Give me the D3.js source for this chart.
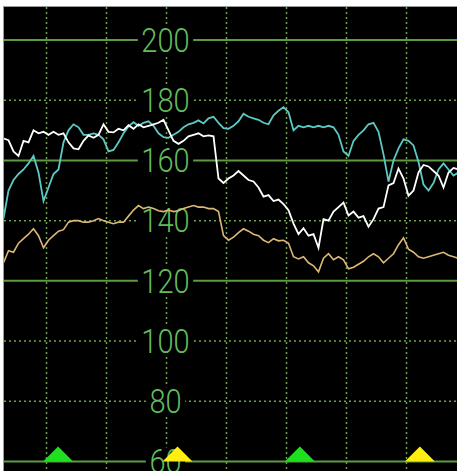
<!DOCTYPE html>
<html>
<head>
<meta charset="utf-8">
<script src="https://cdn.jsdelivr.net/npm/d3@7"></script>
<style>
  html, body { margin: 0; padding: 0; background: #fff; }
  svg { display: block; }
</style>
</head>
<body>
<div id="chart"></div>
<script>
// ---- Data (heart-rate traces, bpm, one sample every 5 s) ----
const startMinute = 0.3;
const samplesPerMinute = 12;

const whiteTrace = [
  167.3, 166.7, 163, 161.5, 166.5, 166, 170, 169, 169.5, 168.5, 169.5, 168.5,
  169, 166, 164, 163.7, 166.5, 168.3, 167.5, 168.5, 172, 169.5, 169.3, 170.5,
  170, 171.7, 170.5, 172, 171, 171.5, 172, 172.5, 173.5, 170, 166.5, 165.5,
  166.5, 168, 168.5, 169, 168, 168.3, 168, 154, 152.5, 154, 155, 156.5,
  155, 153.5, 153, 151, 148, 148.5, 146.5, 147, 145.5, 143.5, 139, 135.5,
  137.5, 135, 135.5, 131, 140.5, 140, 143, 144.5, 146, 141.7, 143, 141,
  141.5, 138, 140.5, 144, 144.5, 151.7, 152.5, 157.3, 154, 148.3, 150, 156,
  158.5, 158, 156.5, 155, 151, 156, 157.5, 157
];

const cyanTrace = [
  140.7, 150, 153.5, 155.5, 157, 159, 161.5, 156, 146.5, 151, 155.5, 157,
  166, 170, 172, 171, 168.5, 168.5, 169, 168.5, 167, 163, 163.5, 166,
  169, 171.3, 172.7, 171.5, 172.5, 173, 171.5, 169, 167.7, 167.5, 168.5, 169.5,
  171, 172, 172.5, 173.3, 172.3, 174, 174.5, 172.5, 170.7, 170.5, 171.5, 173,
  175.5, 174.5, 174, 173.5, 172.5, 172, 175, 176.5, 177.7, 176, 170, 171.5,
  171, 171.5, 171, 171.5, 171, 171.5, 171, 168.5, 163, 161.5, 166.5, 168.5,
  170, 172, 172.5, 169.5, 162, 153, 160, 164, 167, 166.5, 165, 159.5,
  152, 150, 152.5, 157, 159, 157, 155, 156
];

const orangeTrace = [
  126, 130, 129.5, 132.5, 134, 135.5, 137.3, 135, 131, 133.5, 135, 136.5,
  137, 139.5, 140, 140, 139.5, 139.5, 140, 140.7, 140, 139.5, 139, 139.5,
  139.5, 141.5, 143.5, 145, 144, 144.5, 144, 143.3, 143, 143.5, 143, 143.3,
  144, 144.5, 145, 144.5, 144.5, 144, 144, 143, 135, 133.5, 134.5, 136,
  137.3, 136.5, 135.5, 135, 133.5, 132.7, 134, 133.3, 133.5, 132.5, 128, 127.3,
  128, 126, 125, 123, 127.5, 129, 127, 128, 127, 124, 124.5, 125.5,
  126.5, 128, 129, 128, 126, 127.5, 129, 132, 134.3, 130.5, 129.5, 128,
  127.5, 128, 128.5, 129, 129.5, 128.5, 128, 127.5
];

const yTicks = [200, 180, 160, 140, 120, 100, 80, 60];
const solidTicks = [200, 160, 120, 60];
const minuteTicks = [1, 2, 3, 4, 5, 6, 7];
const labelMinute = 3;

const markerMinutes = [1.21, 3.2, 5.24, 7.24];
const markerColors = ['#1fe01f', '#ffee10', '#1fe01f', '#ffee10'];

const series = [
  { name: 'orange', values: orangeTrace, color: '#dcb874', width: 1.6 },
  { name: 'cyan', values: cyanTrace, color: '#5ccac4', width: 1.8 },
  { name: 'white', values: whiteTrace, color: '#ffffff', width: 1.8 }
];

// ---- Setup ----
const W = 457, H = 471;
const svg = d3.select('#chart').append('svg').attr('width', W).attr('height', H);

const x = d3.scaleLinear().domain([0, 7.85]).range([-14.5, 456.5]);
const y = d3.scaleLinear().domain([60, 200]).range([461.5, 40]);

// background
svg.append('rect').attr('x', 0).attr('y', 0).attr('width', W).attr('height', H).attr('fill', '#fff');
svg.append('rect').attr('x', 3).attr('y', 6).attr('width', W - 3).attr('height', H - 6).attr('fill', '#9a9a9a');
svg.append('rect').attr('x', 4).attr('y', 7).attr('width', W - 4).attr('height', H - 7).attr('fill', '#000');

const plot = svg.append('g');
plot.append('clipPath').attr('id', 'clip')
  .append('rect').attr('x', 4).attr('y', 7).attr('width', W - 4).attr('height', H - 7);
const g = plot.append('g').attr('clip-path', 'url(#clip)');

// ---- Grid ----
g.append('g').selectAll('line').data(minuteTicks).join('line')
  .attr('x1', d => Math.round(x(d)) + 0.5).attr('x2', d => Math.round(x(d)) + 0.5)
  .attr('y1', 7).attr('y2', H)
  .attr('stroke', '#6fa24e').attr('stroke-width', 1.5)
  .attr('stroke-dasharray', '2,3');

g.append('g').selectAll('line').data(yTicks).join('line')
  .attr('x1', 4).attr('x2', W)
  .attr('y1', d => y(d)).attr('y2', d => y(d))
  .attr('stroke', d => solidTicks.includes(d) ? '#5e9a44' : '#6fa24e')
  .attr('stroke-width', d => solidTicks.includes(d) ? 2 : 1.5)
  .attr('stroke-dasharray', d => solidTicks.includes(d) ? null : '2,3');

// ---- Tick labels (centred on a grid column, with black backing) ----
const lbl = g.append('g').selectAll('g').data(yTicks).join('g')
  .attr('transform', d => `translate(${x(labelMinute)},${y(d)})`);

const txt = lbl.append('text')
  .attr('text-anchor', 'middle')
  .attr('dy', '0.355em')
  .attr('transform', 'scale(0.88,1)')
  .attr('font-family', 'Roboto, "DejaVu Sans", sans-serif')
  .attr('font-weight', 300)
  .attr('font-size', 33)
  .attr('fill', '#62bc5c')
  .text(d => d);

lbl.each(function () {
  const t = d3.select(this).select('text');
  const b = t.node().getBBox();
  const w = b.width * 0.88 + 7;
  d3.select(this).insert('rect', 'text')
    .attr('x', -w / 2).attr('y', -14).attr('width', w).attr('height', 28)
    .attr('fill', '#000');
});

// ---- Traces ----
const line = d3.line()
  .x((_, i) => x(startMinute + i / samplesPerMinute))
  .y(d => y(d));

g.append('g').selectAll('path').data(series).join('path')
  .attr('d', d => line(d.values))
  .attr('fill', 'none')
  .attr('stroke', d => d.color)
  .attr('stroke-width', d => d.width)
  .attr('stroke-linejoin', 'miter');

// ---- Event markers ----
const tri = d3.symbol().type(d3.symbolTriangle);
g.append('g').selectAll('path').data(markerMinutes).join('path')
  .attr('d', (_, i) => `M${-15},0L0,-15L15,0Z`)
  .attr('transform', d => `translate(${x(d)},${y(60)})`)
  .attr('fill', (_, i) => markerColors[i]);
</script>
</body>
</html>
